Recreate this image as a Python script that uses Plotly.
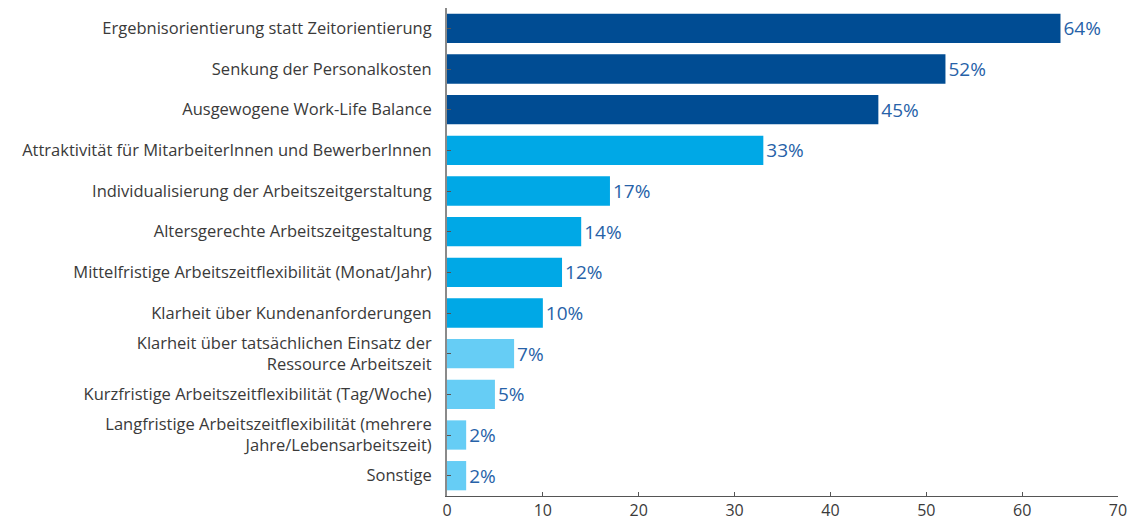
import plotly.graph_objects as go

categories = [
    "Ergebnisorientierung statt Zeitorientierung",
    "Senkung der Personalkosten",
    "Ausgewogene Work-Life Balance",
    "Attraktivität für MitarbeiterInnen und BewerberInnen",
    "Individualisierung der Arbeitszeitgerstaltung",
    "Altersgerechte Arbeitszeitgestaltung",
    "Mittelfristige Arbeitszeitflexibilität (Monat/Jahr)",
    "Klarheit über Kundenanforderungen",
    "Klarheit über tatsächlichen Einsatz der<br>Ressource Arbeitszeit",
    "Kurzfristige Arbeitszeitflexibilität (Tag/Woche)",
    "Langfristige Arbeitszeitflexibilität (mehrere<br>Jahre/Lebensarbeitszeit)",
    "Sonstige",
]
values = [64, 52, 45, 33, 17, 14, 12, 10, 7, 5, 2, 2]
labels = ["64%", "52%", "45%", "33%", "17%", "14%", "12%", "10%", "7%", "5%", "2%", "2%"]
groups = ["dark"] * 3 + ["mid"] * 5 + ["light"] * 4
palette = {"dark": "#004c93", "mid": "#00a8e6", "light": "#66cdf5"}
x_ticks = [0, 10, 20, 30, 40, 50, 60, 70]

fig = go.Figure(go.Bar(
    x=values,
    y=categories,
    orientation="h",
    marker=dict(color=[palette[g] for g in groups], line=dict(width=0)),
    text=labels,
    textposition="outside",
    cliponaxis=False,
    textfont=dict(family="Open Sans", size=19, color="#2762a8"),
    width=0.72,
))

fig.update_layout(
    width=1133, height=524,
    margin=dict(l=447, r=15, t=8, b=28),
    paper_bgcolor="white", plot_bgcolor="white",
    showlegend=False,
    font=dict(family="Open Sans", size=16.5, color="#3a3a3a"),
)
fig.update_xaxes(
    range=[0, 70], tickvals=x_ticks, showgrid=False, zeroline=False,
    showline=True, linecolor="#555555", linewidth=1,
    ticks="inside", ticklen=4, tickcolor="#555555",
    automargin=False,
    tickfont=dict(size=16, color="#3a3a3a"),
)
fig.update_yaxes(
    autorange="reversed", showgrid=False, zeroline=False,
    showline=True, linecolor="#8a8a8a", linewidth=2,
    ticks="inside", ticklen=4, tickcolor="#555555",
    ticklabelstandoff=10, automargin=False,
    tickfont=dict(size=16.5, color="#3a3a3a"),
)

fig.write_html("out.html")
